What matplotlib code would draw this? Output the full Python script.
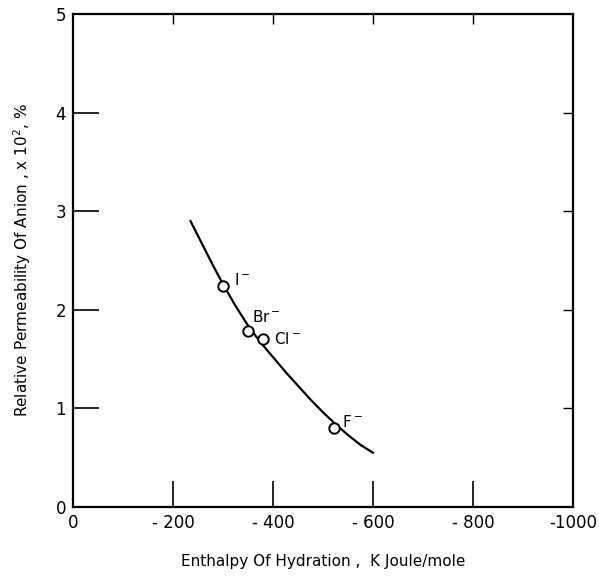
import matplotlib
matplotlib.use("Agg")
import matplotlib.pyplot as plt

# Data
ion_names = ["I$^-$", "Br$^-$", "Cl$^-$", "F$^-$"]
ion_enthalpy = [-300, -350, -380, -522]
ion_perm = [2.24, 1.79, 1.70, 0.80]

curve_enthalpy = [-235, -250, -265, -280, -300, -325, -350, -375, -400, -425, -450,
                  -475, -500, -525, -550, -575, -600]
curve_perm = [2.90, 2.75, 2.60, 2.45, 2.26, 2.04, 1.84, 1.67, 1.52, 1.37, 1.23,
              1.09, 0.96, 0.84, 0.73, 0.63, 0.55]

x_ticks = [0, -200, -400, -600, -800, -1000]
x_ticklabels = ["0", "- 200", "- 400", "- 600", "- 800", "-1000"]
y_ticks = [0, 1, 2, 3, 4, 5]
y_ticklabels = ["0", "1", "2", "3", "4", "5"]

label_offsets = [(-322, 2.30), (-358, 1.93), (-402, 1.70), (-538, 0.86)]

plt.rcParams['font.family'] = ['DejaVu Sans']

fig = plt.figure(figsize=(5.99, 5.77), dpi=100)
ax = fig.add_axes([73/599, 1 - 507/577, 500/599, 493/577])

ax.plot(curve_enthalpy, curve_perm, color="black", lw=1.6, zorder=2)
ax.plot(ion_enthalpy, ion_perm, linestyle="none", marker="o", ms=7.5,
        mfc="white", mec="black", mew=1.4, zorder=3)
for name, (tx, ty) in zip(ion_names, label_offsets):
    ax.text(tx, ty, name, fontsize=11, ha="left", va="center", color="black")

ax.set_xlim(0, -1000)
ax.set_ylim(0, 5)
ax.set_xticks(x_ticks)
ax.set_xticklabels(x_ticklabels)
ax.set_yticks(y_ticks)
ax.set_yticklabels(y_ticklabels)

ax.tick_params(axis="both", direction="in", length=19, width=1.2,
               labelsize=12, pad=5, top=False, right=False)

for sp in ax.spines.values():
    sp.set_linewidth(1.6)

secx = ax.secondary_xaxis("top")
secx.set_xticks(x_ticks[1:-1])
secx.tick_params(direction="in", length=7, width=1.0, labeltop=False)
secx.spines["top"].set_visible(False)
secy = ax.secondary_yaxis("right")
secy.set_yticks(y_ticks[1:-1])
secy.tick_params(direction="in", length=7, width=1.0, labelright=False)
secy.spines["right"].set_visible(False)

ax.set_xlabel("Enthalpy Of Hydration ,  K Joule/mole", fontsize=11, labelpad=16)
ax.set_ylabel("Relative Permeability Of Anion , x 10$^2$, %", fontsize=11, labelpad=16)

fig.savefig("out.png", dpi=100)
